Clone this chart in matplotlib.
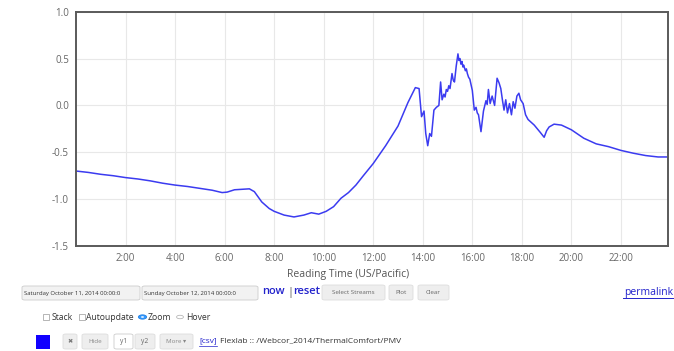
import matplotlib
matplotlib.use("Agg")
import matplotlib.pyplot as plt
from matplotlib.patches import FancyBboxPatch, Rectangle, Circle

plt.rcParams['font.family'] = ['Open Sans', 'DejaVu Sans']

# PMV readings, hours since midnight
hours = [0.0, 0.5, 1.0, 1.5, 2.0, 2.5, 3.0, 3.5, 4.0, 4.5, 5.0, 5.5, 5.9, 6.1,
         6.4, 6.7, 7.0, 7.2, 7.5, 7.8, 8.0, 8.4, 8.8, 9.2, 9.5, 9.8, 10.1, 10.4,
         10.7, 11.0, 11.3, 11.6, 12.0, 12.5, 13.0, 13.4, 13.7, 13.85, 13.95,
         14.05, 14.12, 14.2, 14.28, 14.35, 14.45, 14.55, 14.65, 14.72, 14.78,
         14.85, 14.9, 14.95, 15.0, 15.05, 15.1, 15.18, 15.23, 15.28, 15.35,
         15.42, 15.46, 15.5, 15.54, 15.58, 15.62, 15.65, 15.72, 15.76, 15.8,
         15.85, 15.9, 16.0, 16.08, 16.15, 16.2, 16.25, 16.35, 16.45, 16.55,
         16.6, 16.65, 16.72, 16.8, 16.9, 17.0, 17.08, 17.15, 17.22, 17.28,
         17.35, 17.42, 17.5, 17.58, 17.65, 17.72, 17.8, 17.88, 17.95, 18.05,
         18.15, 18.25, 18.5, 18.75, 18.9, 19.0, 19.1, 19.3, 19.6, 20.0, 20.5,
         21.0, 21.5, 22.0, 22.5, 23.0, 23.5, 23.9]
pmv = [-0.70, -0.715, -0.735, -0.75, -0.77, -0.785, -0.805, -0.83, -0.85,
       -0.865, -0.885, -0.905, -0.93, -0.925, -0.90, -0.895, -0.89, -0.92,
       -1.03, -1.10, -1.13, -1.17, -1.19, -1.17, -1.145, -1.16, -1.13, -1.08,
       -0.99, -0.93, -0.85, -0.75, -0.62, -0.43, -0.22, 0.03, 0.19, 0.18,
       -0.12, -0.06, -0.30, -0.43, -0.30, -0.33, -0.05, -0.02, 0.0, 0.25,
       0.06, 0.12, 0.09, 0.17, 0.15, 0.21, 0.18, 0.34, 0.27, 0.25, 0.42,
       0.55, 0.48, 0.50, 0.44, 0.47, 0.41, 0.43, 0.37, 0.39, 0.34,
       0.30, 0.28, 0.16, -0.05, -0.02, -0.08, -0.10, -0.28, -0.06, 0.05,
       0.01, 0.17, 0.02, 0.10, 0.00, 0.29, 0.24, 0.18, 0.05, -0.05,
       0.06, -0.08, 0.02, -0.10, 0.04, -0.03, 0.10, 0.13, 0.06, 0.02,
       -0.10, -0.15, -0.21, -0.29, -0.34, -0.27, -0.23, -0.20, -0.21, -0.26,
       -0.35, -0.41, -0.44, -0.48, -0.51, -0.535, -0.55, -0.55]

xticks = [2, 4, 6, 8, 10, 12, 14, 16, 18, 20, 22]
xtick_labels = ['%d:00' % h for h in xticks]
yticks = [-1.5, -1.0, -0.5, 0.0, 0.5, 1.0]

W, H = 674, 351
fig = plt.figure(figsize=(W / 100, H / 100), dpi=100)
ax = fig.add_axes([76 / W, 1 - 246 / H, (668 - 76) / W, (246 - 11.7) / H])

ax.plot(hours, pmv, color='#3b3bf0', lw=1.1)
ax.set_xlim(0, 23.9)
ax.set_ylim(-1.5, 1.0)
ax.set_xticks(xticks)
ax.set_xticklabels(xtick_labels)
ax.set_yticks(yticks)
ax.set_yticklabels(['%.1f' % v for v in yticks])
ax.grid(True, color='#e8e8e8', lw=0.8)
ax.set_axisbelow(True)
ax.tick_params(length=0, labelsize=7, colors='#666666', pad=5)
for s in ax.spines.values():
    s.set_color('#5a5a5a')
    s.set_linewidth(1.4)


# helpers working in figure pixels (origin top-left)
def px(x, y):
    return x / W, 1 - y / H


def txt(x, y, s, size=6, color='#333333', ha='left', **kw):
    fx, fy = px(x, y)
    fig.text(fx, fy, s, fontsize=size, color=color, ha=ha, va='center', **kw)


def box(x0, x1, y0, y1, face='#eeeeee', edge='#dddddd'):
    fx, fy = px(x0, y1)
    fig.add_artist(FancyBboxPatch((fx, fy), (x1 - x0) / W, (y1 - y0) / H,
                                  boxstyle='round,pad=0,rounding_size=0.004',
                                  transform=fig.transFigure, facecolor=face,
                                  edgecolor=edge, lw=0.6))


txt(348, 274, 'Reading Time (US/Pacific)', size=7.5, color='#555555', ha='center')

# date range row
box(22, 140, 286, 300, face='#f2f2f2', edge='#cccccc')
txt(24, 293, 'Saturday October 11, 2014 00:00:0', size=4.3, color='#333333')
box(142, 258, 286, 300, face='#f2f2f2', edge='#cccccc')
txt(144, 293, 'Sunday October 12, 2014 00:00:0', size=4.3, color='#333333')
txt(262, 292, 'now', size=8, color='#2222cc', weight='semibold')
txt(287, 292, '|', size=8, color='#555555')
txt(293, 292, 'reset', size=8, color='#2222cc', weight='semibold')
box(322, 385, 285, 300)
txt(353.5, 293, 'Select Streams', size=4.5, color='#666666', ha='center')
box(389, 413, 285, 300)
txt(401, 293, 'Plot', size=4.5, color='#666666', ha='center')
box(418, 449, 285, 300)
txt(433.5, 293, 'Clear', size=4.5, color='#666666', ha='center')
txt(673, 292, 'permalink', size=7.5, color='#2222cc', ha='right')
fig.add_artist(plt.Line2D([px(623, 0)[0], px(673, 0)[0]], [px(0, 298)[1]] * 2,
                          color='#2222cc', lw=0.7, transform=fig.transFigure))

# options row
for cx in (46, 82):
    fx, fy = px(cx - 3, 320)
    fig.add_artist(Rectangle((fx, fy), 6 / W, 6 / H, transform=fig.transFigure,
                             facecolor='white', edgecolor='#999999', lw=0.5))
txt(52, 317, 'Stack', size=6.2)
txt(86, 317, 'Autoupdate', size=6.2)
fig.add_artist(Circle(px(142.5, 317), 4.2 / W, transform=fig.transFigure,
                      facecolor='#3399ff', edgecolor='#1a7ae0', lw=0.5))
fig.add_artist(Circle(px(142.5, 317), 1.5 / W, transform=fig.transFigure,
                      facecolor='white', edgecolor='none'))
txt(148, 317, 'Zoom', size=6.2)
fig.add_artist(Circle(px(180, 317), 3.4 / W, transform=fig.transFigure,
                      facecolor='white', edgecolor='#aaaaaa', lw=0.5))
txt(186, 317, 'Hover', size=6.2)

# stream row
fx, fy = px(36, 349)
fig.add_artist(Rectangle((fx, fy), 14 / W, 14 / H, transform=fig.transFigure,
                         facecolor='#1100ff', edgecolor='none'))
box(63, 77, 334, 349)
txt(70, 341.5, '\u2716', size=4.5, color='#777777', ha='center')
box(82, 108, 334, 349)
txt(95, 341.5, 'Hide', size=4.5, color='#888888', ha='center')
box(114, 133, 334, 349, face='white', edge='#cccccc')
txt(123.5, 341.5, 'y1', size=4.8, color='#666666', ha='center')
box(135, 155, 334, 349)
txt(145, 341.5, 'y2', size=4.8, color='#666666', ha='center')
box(160, 193, 334, 349)
txt(176.5, 341.5, 'More \u25be', size=4.5, color='#888888', ha='center')
txt(199, 341, '[csv]', size=6, color='#2222cc')
fig.add_artist(plt.Line2D([px(199, 0)[0], px(217, 0)[0]], [px(0, 346)[1]] * 2,
                          color='#2222cc', lw=0.5, transform=fig.transFigure))
txt(220, 341, 'Flexlab :: /Webcor_2014/ThermalComfort/PMV', size=6, color='#333333')

fig.savefig('out.png', dpi=100)
